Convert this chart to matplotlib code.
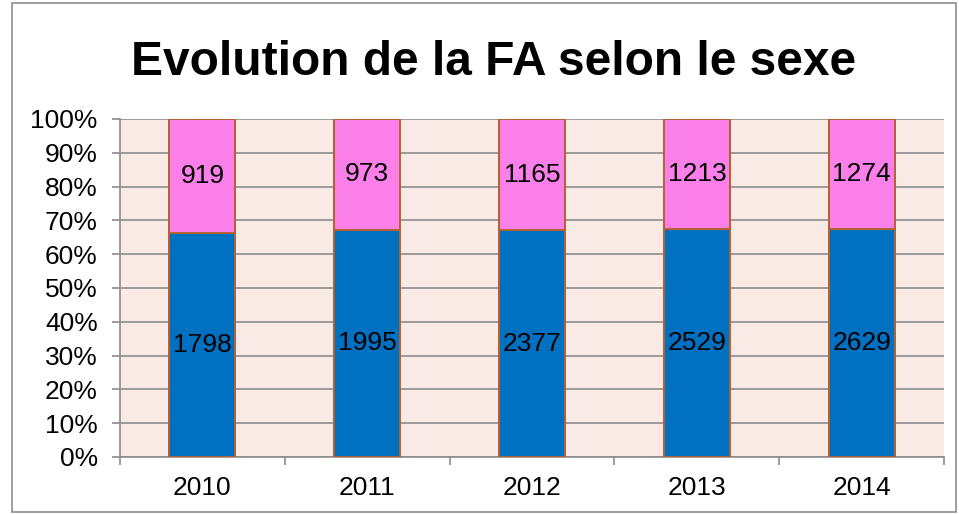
#fa_sexe.py
#Evolution de la FA selon le sexe - 100% stacked bars
import matplotlib.pyplot as plt
from matplotlib.patches import Rectangle
import numpy as np

plt.rcParams['font.family'] = ['Liberation Sans', 'DejaVu Sans']

years = ['2010', '2011', '2012', '2013', '2014']
blue_vals = [1798, 1995, 2377, 2529, 2629]
pink_vals = [919, 973, 1165, 1213, 1274]

blue = np.array(blue_vals, dtype=float)
pink = np.array(pink_vals, dtype=float)
tot = blue + pink
blue_pct = blue / tot * 100
pink_pct = pink / tot * 100

fig = plt.figure(figsize=(9.59, 5.14), dpi=100)
ax = fig.add_axes([0.1251, 0.1109, 0.8593, 0.6576])
ax.set_facecolor('#F9EAE6')

x = np.arange(len(years))
edge = '#B5602F'
ax.bar(x, blue_pct, width=0.4, color='#0070C0', edgecolor=edge, lw=1.4, zorder=3)
ax.bar(x, pink_pct, width=0.4, bottom=blue_pct, color='#FA7FE8', edgecolor=edge, lw=1.4, zorder=3)

#value labels in the middle of each segment
for i in range(len(years)):
    ax.text(x[i], blue_pct[i] / 2, str(blue_vals[i]), ha='center', va='center', fontsize=19, zorder=4)
    ax.text(x[i], blue_pct[i] + pink_pct[i] / 2, str(pink_vals[i]), ha='center', va='center', fontsize=19, zorder=4)

ax.set_xlim(-0.5, len(years) - 0.5)
ax.set_ylim(0, 100)
ax.set_yticks(np.arange(0, 101, 10))
ax.set_yticklabels(['%d%%' % v for v in range(0, 101, 10)])
ax.yaxis.grid(True, color='#8C8C8C', lw=1.2, zorder=1)
ax.set_axisbelow(True)

ax.set_xticks(x)
ax.set_xticklabels(years)
ax.set_xticks(np.arange(-0.5, len(years)), minor=True)
ax.tick_params(axis='x', which='major', length=0, pad=14, labelsize=19)
ax.tick_params(axis='x', which='minor', length=6, color='#8C8C8C', width=1.2)
ax.tick_params(axis='y', length=6, color='#8C8C8C', width=1.2, labelsize=19, pad=10)

for s in ['top', 'right']:
    ax.spines[s].set_visible(False)
ax.spines['left'].set_color('#8C8C8C')
ax.spines['bottom'].set_color('#8C8C8C')
ax.spines['left'].set_linewidth(1.2)
ax.spines['bottom'].set_linewidth(1.2)

fig.text(0.515, 0.879, 'Evolution de la FA selon le sexe', ha='center', va='center',
         fontsize=34.5, fontweight='bold')

#outer frame of the chart
fig.patches.append(Rectangle((12 / 959, 2 / 514), 944 / 959, 509 / 514, transform=fig.transFigure,
                             fill=False, edgecolor='#8C8C8C', lw=1.2))

fig.savefig('out.png', dpi=100)
